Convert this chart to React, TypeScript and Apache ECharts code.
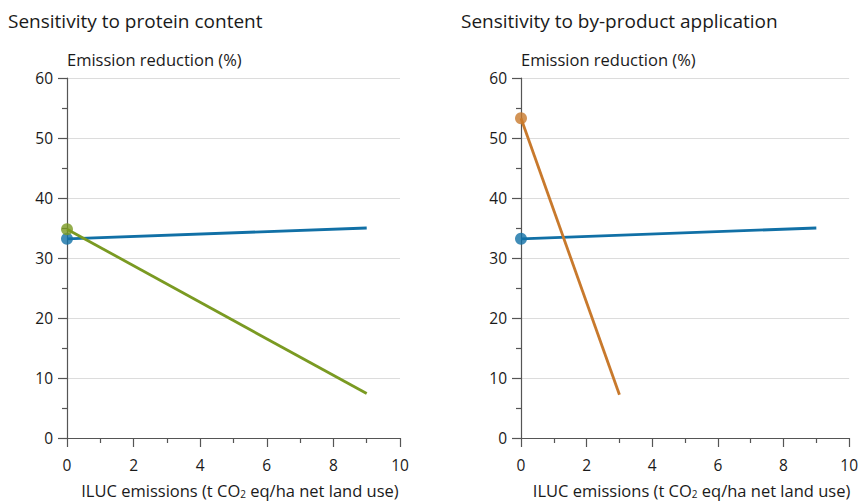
import React, { useEffect, useRef } from "react";
import * as echarts from "echarts";

const titles = ["Sensitivity to protein content", "Sensitivity to by-product application"];
const yAxisTitle = "Emission reduction (%)";
const xAxisTitle = "ILUC emissions (t CO{sub|2} eq/ha net land use)";

// Left panel
const baseLine: [number, number][] = [[0, 33.2], [9, 35.0]];
const proteinLine: [number, number][] = [[0, 34.8], [9, 7.4]];
// Right panel
const byProductLine: [number, number][] = [[0, 53.3], [3, 7.2]];

const BLUE = "#1170a6";
const GREEN = "#7a9a22";
const ORANGE = "#c8792c";

export default function App() {
  const ref = useRef<HTMLDivElement>(null);
  useEffect(() => {
    if (!ref.current) return;
    const chart = echarts.init(ref.current, undefined, { renderer: "svg" });
    const font = "Open Sans";
    const axisColor = "#555";
    const txt = "#1a1a1a";
    const mkX = (gi: number) => ({
      type: "value",
      gridIndex: gi,
      min: 0,
      max: 10,
      interval: 2,
      axisLine: { show: true, lineStyle: { color: axisColor, width: 1.2 } },
      axisTick: { show: true, length: 9, lineStyle: { color: axisColor, width: 1.2 } },
      minorTick: { show: true, splitNumber: 2, length: 5, lineStyle: { color: axisColor, width: 1.2 } },
      splitLine: { show: false },
      axisLabel: { color: txt, fontSize: 15.5, fontFamily: font, margin: 19 },
      name: xAxisTitle,
      nameLocation: "middle",
      nameGap: 43,
      nameTextStyle: {
        color: txt,
        fontSize: 16.5,
        fontFamily: font,
        padding: [0, 0, 0, 13],
        rich: { sub: { fontSize: 10, fontFamily: font, color: txt, padding: [8, 0, 0, 0] } },
      },
    });
    const mkY = (gi: number) => ({
      type: "value",
      gridIndex: gi,
      min: 0,
      max: 60,
      interval: 10,
      axisLine: { show: true, lineStyle: { color: axisColor, width: 1.2 } },
      axisTick: { show: true, length: 9, lineStyle: { color: axisColor, width: 1.2 } },
      minorTick: { show: true, splitNumber: 2, length: 5, lineStyle: { color: axisColor, width: 1.2 } },
      splitLine: { show: true, lineStyle: { color: "#dcdcdc", width: 1 } },
      axisLabel: { color: txt, fontSize: 15.5, fontFamily: font, margin: 14 },
      name: yAxisTitle,
      nameLocation: "end",
      nameGap: 10,
      nameTextStyle: { color: txt, fontSize: 16.5, fontFamily: font, align: "left" },
    });
    const lineSeries = (gi: number, data: [number, number][], color: string) => ({
      type: "line",
      xAxisIndex: gi,
      yAxisIndex: gi,
      data,
      showSymbol: false,
      lineStyle: { color, width: 2.8 },
      itemStyle: { color },
      z: 3,
    });
    const dotSeries = (gi: number, data: [number, number][], color: string) => ({
      type: "scatter",
      xAxisIndex: gi,
      yAxisIndex: gi,
      data: [data[0]],
      symbol: "circle",
      symbolSize: 12,
      itemStyle: { color },
      z: 4,
    });
    chart.setOption({
      animation: false,
      title: [
        { text: titles[0], left: 3, top: 6, textStyle: { fontSize: 19, fontWeight: "normal", color: txt, fontFamily: font } },
        { text: titles[1], left: 456, top: 6, textStyle: { fontSize: 19, fontWeight: "normal", color: txt, fontFamily: font } },
      ],
      grid: [
        { left: 67, right: 461, top: 78, bottom: 63 },
        { left: 521, right: 7, top: 78, bottom: 63 },
      ],
      xAxis: [mkX(0), mkX(1)],
      yAxis: [mkY(0), mkY(1)],
      series: [
        lineSeries(0, baseLine, BLUE),
        lineSeries(0, proteinLine, GREEN),
        dotSeries(0, baseLine, BLUE),
        dotSeries(0, proteinLine, GREEN),
        lineSeries(1, baseLine, BLUE),
        lineSeries(1, byProductLine, ORANGE),
        dotSeries(1, baseLine, BLUE),
        dotSeries(1, byProductLine, ORANGE),
      ],
    });
    return () => chart.dispose();
  }, []);
  return <div ref={ref} style={{ position: "fixed", left: 0, top: 0, width: 861, height: 504, background: "#fff" }} />;
}
